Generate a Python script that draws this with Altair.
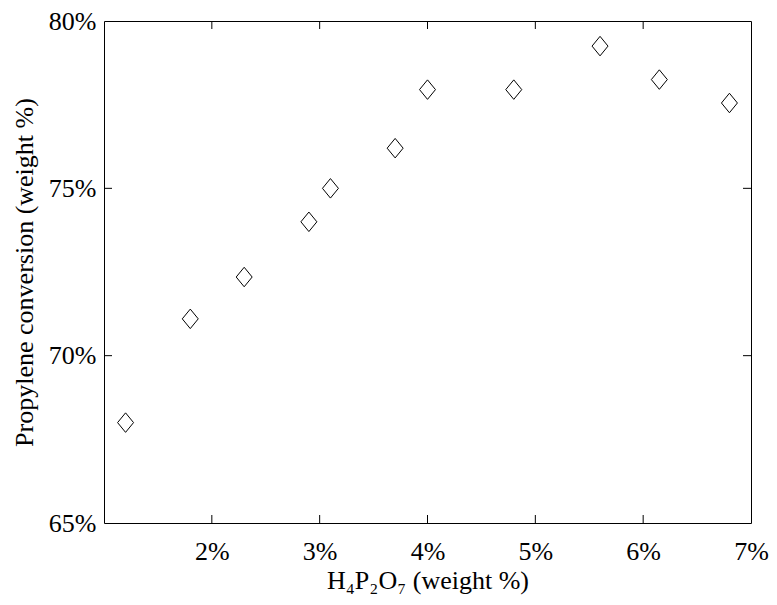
import altair as alt
import pandas as pd

# Data
h4p2o7 = [1.2, 1.8, 2.3, 2.9, 3.1, 3.7, 4.0, 4.8, 5.6, 6.15, 6.8]
conversion = [68.0, 71.1, 72.35, 74.0, 75.0, 76.2, 77.95, 77.95, 79.25, 78.25, 77.55]
x_label_values = [2, 3, 4, 5, 6, 7]
y_label_values = [65, 70, 75, 80]
x_inner_ticks = [2, 3, 4, 5, 6]
y_inner_ticks = [70, 75]

W, H = 647, 502
TL = 8
FONT = "Liberation Serif"

df = pd.DataFrame({"x": h4p2o7, "y": conversion})
xt = pd.DataFrame({"x": x_inner_ticks})
yt = pd.DataFrame({"y": y_inner_ticks})

xscale = alt.Scale(domain=[1, 7], nice=False, zero=False)
yscale = alt.Scale(domain=[65, 80], nice=False, zero=False)

xaxis = alt.Axis(
    values=x_label_values, labelExpr="datum.value + '%'",
    title="H₄P₂O₇ (weight %)", labelPadding=15, titlePadding=3,
    labelFlush=False, labelOverlap=False)
yaxis = alt.Axis(
    values=y_label_values, labelExpr="datum.value + '%'",
    title="Propylene conversion (weight %)", labelPadding=8, titlePadding=11,
    labelFlush=False, labelOverlap=False)

X = alt.X("x:Q", scale=xscale, axis=xaxis)
Y = alt.Y("y:Q", scale=yscale, axis=yaxis)

diamond = "M0,-1L0.82,0L0,1L-0.82,0Z"

points = alt.Chart(df).mark_point(
    shape=diamond, size=380, filled=False, stroke="black", strokeWidth=1, opacity=1
).encode(x=X, y=Y)

bottom_ticks = alt.Chart(xt).mark_rule(color="black", strokeWidth=1).encode(
    x=X, y=alt.value(H), y2=alt.value(H - TL))
top_ticks = alt.Chart(xt).mark_rule(color="black", strokeWidth=1).encode(
    x=X, y=alt.value(0), y2=alt.value(TL))
left_ticks = alt.Chart(yt).mark_rule(color="black", strokeWidth=1).encode(
    y=Y, x=alt.value(0), x2=alt.value(TL))
right_ticks = alt.Chart(yt).mark_rule(color="black", strokeWidth=1).encode(
    y=Y, x=alt.value(W), x2=alt.value(W - TL))

chart = alt.layer(points, bottom_ticks, top_ticks, left_ticks, right_ticks).properties(
    width=W, height=H,
    autosize=alt.AutoSizeParams(type="none"),
    padding={"left": 96, "top": 13, "right": 18, "bottom": 74},
    background="white",
).configure_view(
    stroke="black", strokeWidth=1
).configure_axis(
    domain=False, ticks=False, tickSize=0, grid=False,
    labelFont=FONT, labelFontSize=26, labelColor="black",
    titleFont=FONT, titleFontSize=26, titleFontWeight="normal", titleColor="black",
)

chart.save("out.html", embed_options={"renderer": "svg", "actions": False})
